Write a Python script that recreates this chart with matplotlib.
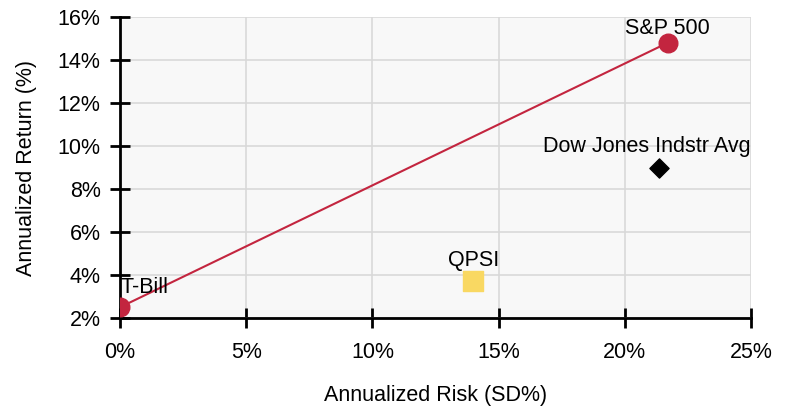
import matplotlib
matplotlib.use("Agg")
import matplotlib.pyplot as plt
from matplotlib.ticker import FuncFormatter

plt.rcParams['font.family'] = ['Liberation Sans', 'DejaVu Sans']

# data (annualized risk %, annualized return %)
names = ["T-Bill", "S&P 500", "Dow Jones Indstr Avg", "QPSI"]
risk = [0.0, 21.7, 21.35, 14.0]
ret = [2.5, 14.8, 9.0, 3.7]

line_x = [risk[0], risk[1]]
line_y = [ret[0], ret[1]]

red = "#c3253f"
fs = 15.5

fig = plt.figure(figsize=(7.88, 4.08), dpi=100)
ax = fig.add_axes([0.1523, 0.2206, 0.8007, 0.7377])
ax.set_facecolor("#f8f8f8")

ax.plot(line_x, line_y, color=red, lw=1.5, zorder=3)
ax.scatter(risk[0:2], ret[0:2], s=180, color=red, zorder=4, clip_on=True)
ax.scatter([risk[2]], [ret[2]], s=95, marker="D", color="black", zorder=4)
ax.scatter([risk[3]], [ret[3]], s=210, marker="s", color="#f9d862", zorder=4)

# labels above the markers (kept inside the plot area)
ax.annotate(names[0], (risk[0], ret[0]), xytext=(0, 10), textcoords="offset points",
            ha="left", va="baseline", fontsize=fs, zorder=5)
ax.annotate(names[1], (risk[1], ret[1]), xytext=(0, 6), textcoords="offset points",
            ha="center", va="baseline", fontsize=fs, zorder=5)
ax.annotate(names[2], (risk[2], ret[2]), xytext=(-9, 11), textcoords="offset points",
            ha="center", va="baseline", fontsize=fs, zorder=5)
ax.annotate(names[3], (risk[3], ret[3]), xytext=(0, 11), textcoords="offset points",
            ha="center", va="baseline", fontsize=fs, zorder=5)

ax.set_xlim(0, 25)
ax.set_ylim(2, 16)
ax.set_xticks(range(0, 26, 5))
ax.set_yticks(range(2, 17, 2))
ax.xaxis.set_major_formatter(FuncFormatter(lambda v, p: "%d%%" % v))
ax.yaxis.set_major_formatter(FuncFormatter(lambda v, p: "%d%%" % v))

ax.grid(True, color="#d9d9d9", lw=1.2, zorder=0)
ax.set_axisbelow(True)
for s in ["top", "right"]:
    ax.spines[s].set_visible(False)
for s in ["left", "bottom"]:
    ax.spines[s].set_linewidth(2)
    ax.spines[s].set_color("black")
ax.tick_params(axis="both", direction="inout", length=14, width=2, labelsize=fs, colors="black")
ax.tick_params(axis="x", pad=10)
ax.tick_params(axis="y", pad=7)

ax.set_xlabel("Annualized Risk (SD%)", fontsize=fs, labelpad=16)
ax.set_ylabel("Annualized Return (%)", fontsize=fs, labelpad=15)

fig.savefig("out.png", dpi=100)
